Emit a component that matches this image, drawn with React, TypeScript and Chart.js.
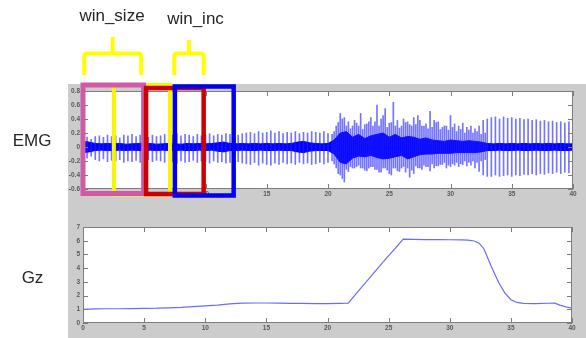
import React, { useEffect, useRef } from 'react';
import { Chart, registerables } from 'chart.js';

Chart.register(...registerables);

// ---------- data ----------
const X_TICKS = [0, 5, 10, 15, 20, 25, 30, 35, 40];
const EMG_Y_TICKS = [0.8, 0.6, 0.4, 0.2, 0, -0.2, -0.4, -0.6];
const GZ_Y_TICKS = [0, 1, 2, 3, 4, 5, 6, 7];

// EMG bursts, one every EMG_SPIKE_STEP seconds (peak up / peak down)
const EMG_SPIKE_STEP = 1 / 3;
const emgSpikeHi = [
  0.12, 0.14, 0.11, 0.15, 0.16, 0.14, 0.17, 0.15, 0.16, 0.13,
  0.17, 0.16, 0.18, 0.15, 0.17, 0.16, 0.14, 0.17, 0.15, 0.16,
  0.18, 0.16, 0.17, 0.19, 0.16, 0.18, 0.17, 0.15, 0.18, 0.16,
  0.17, 0.19, 0.16, 0.18, 0.17, 0.19, 0.18, 0.2, 0.17, 0.19,
  0.2, 0.21, 0.19, 0.22, 0.2, 0.21, 0.23, 0.2, 0.22, 0.19,
  0.21, 0.2, 0.22, 0.19, 0.21, 0.2, 0.22, 0.21, 0.2, 0.22,
  0.19,
  0.18, 0.3, 0.48, 0.42, 0.36, 0.3, 0.34, 0.48, 0.32, 0.36,
  0.3, 0.6, 0.4, 0.55, 0.34, 0.64, 0.38, 0.3, 0.35, 0.32,
  0.42, 0.45, 0.3, 0.33, 0.51, 0.38, 0.36, 0.28, 0.3, 0.45,
  0.33, 0.3, 0.34, 0.28, 0.3, 0.26, 0.3, 0.38, 0.4,
  0.42, 0.43, 0.4, 0.43, 0.41, 0.42, 0.4, 0.41, 0.39, 0.4,
  0.38, 0.39, 0.37, 0.38, 0.36, 0.37, 0.35, 0.36, 0.34, 0.36, 0.35,
];
const emgSpikeLo = [
  -0.14, -0.16, -0.13, -0.18, -0.2, -0.17, -0.21, -0.19, -0.2, -0.18,
  -0.22, -0.2, -0.21, -0.19, -0.22, -0.2, -0.18, -0.21, -0.19, -0.2,
  -0.22, -0.2, -0.21, -0.23, -0.2, -0.22, -0.21, -0.19, -0.22, -0.2,
  -0.21, -0.23, -0.2, -0.22, -0.21, -0.23, -0.22, -0.24, -0.21, -0.23,
  -0.24, -0.25, -0.22, -0.26, -0.23, -0.25, -0.26, -0.23, -0.25, -0.22,
  -0.24, -0.23, -0.25, -0.22, -0.24, -0.23, -0.25, -0.24, -0.22, -0.24,
  -0.22,
  -0.2, -0.3, -0.4, -0.5, -0.35, -0.3, -0.28, -0.3, -0.33, -0.3,
  -0.28, -0.32, -0.36, -0.3, -0.38, -0.3, -0.34, -0.3, -0.36, -0.43,
  -0.38, -0.3, -0.32, -0.28, -0.34, -0.3, -0.27, -0.25, -0.3, -0.28,
  -0.26, -0.28, -0.25, -0.27, -0.26, -0.3, -0.35, -0.4, -0.42,
  -0.42, -0.4, -0.42, -0.41, -0.4, -0.42, -0.4, -0.41, -0.39, -0.4,
  -0.38, -0.4, -0.38, -0.39, -0.37, -0.38, -0.36, -0.38, -0.36, -0.37, -0.36,
];

// extra bursts inside the dense active stretch, starting at EMG_BURST_START
const EMG_BURST_START = 20.5;
const emgBurstHi = [
  0.22, 0.35, 0.4, 0.3, 0.26, 0.38, 0.3, 0.25, 0.33, 0.42,
  0.36, 0.3, 0.45, 0.28, 0.35, 0.3, 0.27, 0.4, 0.36, 0.3,
  0.32, 0.38, 0.3, 0.26, 0.28, 0.35, 0.25, 0.3, 0.24, 0.28,
  0.22, 0.25, 0.2, 0.24, 0.2, 0.22, 0.18, 0.2,
];
const emgBurstLo = [
  -0.24, -0.38, -0.45, -0.32, -0.28, -0.3, -0.26, -0.3, -0.34, -0.28,
  -0.32, -0.36, -0.3, -0.33, -0.4, -0.3, -0.35, -0.28, -0.3, -0.33,
  -0.27, -0.3, -0.26, -0.28, -0.24, -0.27, -0.25, -0.22, -0.26, -0.24,
  -0.22, -0.24, -0.2, -0.22, -0.2, -0.22, -0.2, -0.18,
];

// EMG noise floor envelope, one value every EMG_BAND_STEP seconds
const EMG_BAND_STEP = 0.5;
const emgBandHi = [
  0.08, 0.07, 0.05, 0.045, 0.05, 0.045, 0.05, 0.04, 0.045, 0.05,
  0.045, 0.05, 0.04, 0.045, 0.05, 0.045, 0.04, 0.05, 0.045, 0.05,
  0.045, 0.05, 0.06, 0.07, 0.05, 0.045, 0.05, 0.045, 0.05, 0.045,
  0.05, 0.045, 0.05, 0.045, 0.05, 0.07, 0.08, 0.06, 0.05, 0.045,
  0.05, 0.1, 0.2, 0.22, 0.14, 0.18, 0.12, 0.16, 0.18, 0.2,
  0.14, 0.18, 0.13, 0.15, 0.14, 0.11, 0.13, 0.1, 0.09, 0.08,
  0.1, 0.09, 0.08, 0.09, 0.08, 0.07, 0.05, 0.045, 0.05, 0.045,
  0.05, 0.045, 0.05, 0.045, 0.05, 0.045, 0.05, 0.045, 0.05, 0.045,
  0.045,
];
const emgBandLo = [
  -0.08, -0.07, -0.05, -0.045, -0.05, -0.05, -0.045, -0.05, -0.045, -0.05,
  -0.05, -0.045, -0.05, -0.045, -0.05, -0.05, -0.045, -0.05, -0.05, -0.045,
  -0.05, -0.045, -0.06, -0.07, -0.05, -0.05, -0.045, -0.05, -0.05, -0.045,
  -0.05, -0.05, -0.045, -0.05, -0.05, -0.07, -0.08, -0.06, -0.05, -0.05,
  -0.05, -0.1, -0.22, -0.24, -0.16, -0.13, -0.14, -0.12, -0.15, -0.17,
  -0.16, -0.14, -0.12, -0.17, -0.14, -0.11, -0.1, -0.1, -0.09, -0.09,
  -0.09, -0.08, -0.08, -0.08, -0.08, -0.07, -0.05, -0.05, -0.045, -0.05,
  -0.05, -0.045, -0.05, -0.05, -0.045, -0.05, -0.05, -0.045, -0.05, -0.05,
  -0.045,
];

// Gz trace
const gzTime = [
  0, 1, 2, 3, 4, 5, 6, 7, 8, 9, 10, 11, 12, 13, 14, 15, 16, 17, 18, 19, 20, 21,
  21.7, 22.5, 23.5, 24.5, 25.5, 26.2,
  27, 28, 29, 30, 31, 31.5, 32, 32.4, 32.8, 33.4, 34, 34.5, 35, 35.5, 36, 37, 38, 38.6, 39, 39.5, 40,
];
const gzValue = [
  1.0, 1.03, 1.04, 1.04, 1.05, 1.07, 1.08, 1.11, 1.14, 1.2, 1.25, 1.31, 1.39, 1.45, 1.46, 1.46, 1.45, 1.43, 1.43, 1.42, 1.42, 1.43,
  1.44, 2.3, 3.35, 4.4, 5.4, 6.12,
  6.1, 6.08, 6.09, 6.07, 6.06, 6.04, 5.98, 5.82, 5.4, 4.12, 2.95, 2.2, 1.7, 1.5, 1.43, 1.42, 1.44, 1.45, 1.3, 1.18, 1.08,
];

// analysis windows (seconds), in drawing order: yellow, pink, red, blue
const winStart = [2.52, 0, 5.15, 7.5];
const winEnd = [7.1, 4.95, 9.85, 12.3];
// braces over the windows (seconds)
const braceStart = [0.1, 7.45];
const braceEnd = [4.75, 9.85];

// ---------- styles ----------
const WIN_STYLE = [
  { color: '#f6f600', width: 4, top: -6, bottom: 5.5 },
  { color: '#d05aa5', width: 5, top: -6, bottom: 4.5 },
  { color: '#cc0000', width: 4.5, top: -3, bottom: 5 },
  { color: '#0000ee', width: 4.5, top: -4.5, bottom: 6.5 },
];
const BRACE_STYLE = { color: '#ffff00', width: 4, barY: 53.5, endY: 75, stemTop: [37, 40] };
const FRAME = '#7d7d7d';
const TICK_FONT = { family: '"Liberation Sans", Arial, sans-serif', size: 6.5, weight: 'bold' as const };
const TICK_COLOR = '#5a5a5a';
const SPIKE_COLOR = 'rgba(30,30,255,0.62)';

const axesPlugin = {
  id: 'matlabAxes',
  beforeDraw(chart: any) {
    const { ctx, chartArea: a } = chart;
    ctx.save();
    ctx.fillStyle = '#ffffff';
    ctx.fillRect(a.left, a.top, a.right - a.left, a.bottom - a.top);
    ctx.restore();
  },
  afterDatasetsDraw(chart: any) {
    const { ctx, chartArea: a, scales } = chart;
    const tl = 5;
    ctx.save();
    ctx.strokeStyle = FRAME;
    ctx.lineWidth = 1;
    ctx.beginPath();
    for (const t of scales.x.ticks) {
      const px = Math.round(scales.x.getPixelForValue(t.value)) + 0.5;
      ctx.moveTo(px, a.bottom);
      ctx.lineTo(px, a.bottom - tl);
      ctx.moveTo(px, a.top);
      ctx.lineTo(px, a.top + tl);
    }
    for (const t of scales.y.ticks) {
      const py = Math.round(scales.y.getPixelForValue(t.value)) + 0.5;
      ctx.moveTo(a.left, py);
      ctx.lineTo(a.left + tl, py);
      ctx.moveTo(a.right, py);
      ctx.lineTo(a.right - tl, py);
    }
    ctx.stroke();
    ctx.strokeRect(a.left + 0.5, a.top + 0.5, a.right - a.left - 1, a.bottom - a.top - 1);
    ctx.restore();
  },
};

const windowPlugin = {
  id: 'windows',
  afterDraw(chart: any) {
    const { ctx, chartArea: a, scales } = chart;
    const x = scales.x;
    ctx.save();
    winStart.forEach((s, i) => {
      const st = WIN_STYLE[i];
      const l = x.getPixelForValue(s);
      const r = x.getPixelForValue(winEnd[i]);
      ctx.strokeStyle = st.color;
      ctx.lineWidth = st.width;
      const t = a.top + st.top;
      const b = a.bottom + st.bottom;
      ctx.strokeRect(l, t, r - l, b - t);
    });
    ctx.strokeStyle = BRACE_STYLE.color;
    ctx.lineWidth = BRACE_STYLE.width;
    ctx.lineJoin = 'round';
    braceStart.forEach((s, i) => {
      const l = x.getPixelForValue(s);
      const r = x.getPixelForValue(braceEnd[i]);
      const m = (l + r) / 2;
      const y = BRACE_STYLE.barY;
      const e = BRACE_STYLE.endY;
      ctx.beginPath();
      ctx.moveTo(l, e);
      ctx.lineTo(l, y + 3);
      ctx.quadraticCurveTo(l, y, l + 3, y);
      ctx.lineTo(r - 3, y);
      ctx.quadraticCurveTo(r, y, r, y + 3);
      ctx.lineTo(r, e);
      ctx.moveTo(m, y);
      ctx.lineTo(m, BRACE_STYLE.stemTop[i]);
      ctx.stroke();
    });
    ctx.restore();
  },
};

function xScale() {
  return {
    type: 'linear' as const,
    min: 0,
    max: 40,
    offset: false,
    grid: { display: false, drawTicks: false, tickLength: 0 },
    border: { display: false },
    afterBuildTicks: (s: any) => {
      s.ticks = X_TICKS.map((v) => ({ value: v }));
    },
    afterFit: (s: any) => {
      s.height = 12;
    },
    ticks: {
      autoSkip: false,
      maxRotation: 0,
      padding: 1,
      font: TICK_FONT,
      color: TICK_COLOR,
      callback: (v: any) => String(v),
    },
  };
}

function yScale(min: number, max: number, ticks: number[]) {
  return {
    type: 'linear' as const,
    min,
    max,
    grid: { display: false, drawTicks: false, tickLength: 0 },
    border: { display: false },
    afterBuildTicks: (s: any) => {
      s.ticks = ticks.map((v) => ({ value: v }));
    },
    afterFit: (s: any) => {
      s.width = 20;
    },
    ticks: {
      autoSkip: false,
      padding: 3,
      font: TICK_FONT,
      color: TICK_COLOR,
      callback: (v: any) => {
        const n = Number(v);
        if (Math.abs(n) < 1e-9) return '0';
        return Number.isInteger(n) ? String(n) : n.toFixed(1);
      },
    },
  };
}

const commonOptions = {
  responsive: false,
  animation: false as const,
  devicePixelRatio: 1,
  events: [] as any[],
  plugins: { legend: { display: false }, tooltip: { enabled: false } },
};

export default function App() {
  const topRef = useRef<HTMLCanvasElement>(null);
  const botRef = useRef<HTMLCanvasElement>(null);

  useEffect(() => {
    const spikeData = emgSpikeHi.map((h, i) => ({ x: i * EMG_SPIKE_STEP, y: [emgSpikeLo[i], h] }));
    const burstData = emgBurstHi.map((h, i) => ({
      x: EMG_BURST_START + i * EMG_SPIKE_STEP,
      y: [emgBurstLo[i], h],
    }));
    const bandLoData = emgBandLo.map((v, i) => ({ x: i * EMG_BAND_STEP, y: v }));
    const bandHiData = emgBandHi.map((v, i) => ({ x: i * EMG_BAND_STEP, y: v }));

    const top = new Chart(topRef.current as HTMLCanvasElement, {
      type: 'line',
      data: {
        datasets: [
          {
            type: 'bar',
            data: spikeData as any,
            backgroundColor: SPIKE_COLOR,
            borderWidth: 0,
            barThickness: 1,
            grouped: false,
          } as any,
          {
            type: 'bar',
            data: burstData as any,
            backgroundColor: SPIKE_COLOR,
            borderWidth: 0,
            barThickness: 1,
            grouped: false,
          } as any,
          {
            type: 'line',
            data: bandLoData,
            borderColor: '#0000ff',
            borderWidth: 1,
            pointRadius: 0,
            fill: false,
          },
          {
            type: 'line',
            data: bandHiData,
            borderColor: '#0000ff',
            backgroundColor: '#0000ff',
            borderWidth: 1,
            pointRadius: 0,
            fill: '-1',
          },
        ],
      },
      options: {
        ...commonOptions,
        layout: { padding: { left: 63, right: 13, top: 91, bottom: 4 } },
        scales: {
          x: xScale(),
          y: yScale(-0.6, 0.8, EMG_Y_TICKS),
        },
      } as any,
      plugins: [axesPlugin, windowPlugin],
    });

    const bottom = new Chart(botRef.current as HTMLCanvasElement, {
      type: 'line',
      data: {
        datasets: [
          {
            data: gzTime.map((t, i) => ({ x: t, y: gzValue[i] })),
            borderColor: '#6b6bff',
            borderWidth: 1.2,
            pointRadius: 0,
            fill: false,
            tension: 0,
          },
        ],
      },
      options: {
        ...commonOptions,
        layout: { padding: { left: 63, right: 14, top: 22, bottom: 3 } },
        scales: {
          x: xScale(),
          y: yScale(0, 7, GZ_Y_TICKS),
        },
      } as any,
      plugins: [axesPlugin],
    });

    return () => {
      top.destroy();
      bottom.destroy();
    };
  }, []);

  const labelFont = '"Liberation Sans", Arial, Helvetica, sans-serif';
  const label = (text: string, cx: number, top: number) => (
    <div
      style={{
        position: 'absolute',
        left: cx,
        top,
        transform: 'translateX(-50%)',
        fontFamily: labelFont,
        fontSize: 17,
        lineHeight: '17px',
        color: '#262626',
        whiteSpace: 'nowrap',
      }}
    >
      {text}
    </div>
  );

  return (
    <div
      style={{
        position: 'fixed',
        left: 0,
        top: 0,
        width: 586,
        height: 338,
        background: '#ffffff',
        overflow: 'hidden',
      }}
    >
      <div style={{ position: 'absolute', left: 68, top: 84, width: 518, height: 254, background: '#cccccc' }} />
      <canvas
        ref={topRef}
        width={586}
        height={205}
        style={{ position: 'absolute', left: 0, top: 0, width: 586, height: 205 }}
      />
      <canvas
        ref={botRef}
        width={586}
        height={133}
        style={{ position: 'absolute', left: 0, top: 205, width: 586, height: 133 }}
      />
      {label('win_size', 112, 7)}
      {label('win_inc', 195.5, 10)}
      {label('EMG', 32, 132)}
      {label('Gz', 32.5, 269)}
    </div>
  );
}
